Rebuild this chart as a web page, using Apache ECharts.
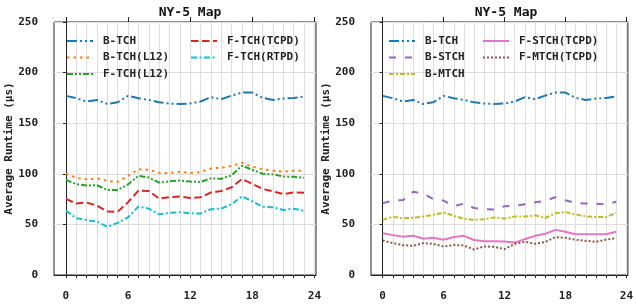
<!DOCTYPE html>
<html>
<head>
<meta charset="utf-8">
<script src="https://cdn.jsdelivr.net/npm/echarts@6/dist/echarts.min.js"></script>
<style>
  html, body { margin: 0; padding: 0; background: #fff; }
  #main { width: 636px; height: 305px; }
</style>
</head>
<body>
<div id="main"></div>
<script>
// hour of day
var hours = [0, 1, 2, 3, 4, 5, 6, 7, 8, 9, 10, 11, 12, 13, 14, 15, 16, 17, 18, 19, 20, 21, 22, 23];
var hourTicks = [0, 1, 2, 3, 4, 5, 6, 7, 8, 9, 10, 11, 12, 13, 14, 15, 16, 17, 18, 19, 20, 21, 22, 23, 24];
var hourLabels = [0, 6, 12, 18, 24];

// left panel
var bTch = [177, 174.7, 171.4, 173, 169, 170.7, 177, 174.7, 173, 170.7, 169.4, 169, 169.4, 171.4, 175.7, 173.7, 177.3, 180.3, 180.3, 175, 173, 174.3, 175, 176.3];
var bTchL12 = [100, 96, 94.5, 95.5, 93, 92, 98, 104.5, 104, 101, 100.8, 102, 100.8, 101.7, 105.3, 106, 107.7, 111, 107, 104.5, 103, 102, 103, 103];
var fTchL12 = [94, 89.8, 88.4, 88.7, 84, 84, 89.5, 98, 96.3, 91.3, 92.6, 93.3, 92.3, 92, 95.5, 95, 98.5, 108, 104, 100, 99.4, 97.3, 97, 96];
var fTchTcpd = [75.2, 70.6, 71.6, 68.5, 62.7, 62.5, 72, 83.3, 83, 75.5, 77, 77.5, 76.2, 76.8, 81.5, 83, 86.7, 94.8, 90, 85, 82.6, 80, 81.5, 81.3];
var fTchRtpd = [63.7, 56, 54.3, 52.8, 47.6, 51.5, 57, 67.6, 65.6, 59.9, 61.5, 62, 61, 60.7, 65, 65.6, 70, 77.8, 72.7, 67.5, 66.9, 64.3, 65.5, 63.3];

// right panel
var bStch = [71, 73.5, 74, 82.3, 80.5, 75, 73.5, 68, 70.5, 66.2, 65.2, 64.6, 68, 68.6, 69.8, 71.8, 73.2, 76.8, 73.8, 71.2, 70.6, 70.4, 69.8, 72.4];
var bMtch = [54.5, 57.5, 56, 56.6, 57.7, 59.5, 61.7, 58.5, 55.5, 54.5, 55.2, 56.8, 55.8, 57.7, 57.7, 59, 56.3, 61, 62.2, 59.8, 58, 57.2, 57.2, 61.4];
var fStchTcpd = [41.3, 39.4, 37.7, 38.8, 35.9, 36.9, 34.9, 37.5, 38.7, 34.6, 33.3, 33.3, 33.2, 32, 35.4, 38.7, 40.7, 44.6, 42.7, 40.2, 40.2, 40.2, 40.2, 42.7];
var fMtchTcpd = [34, 31.5, 29.5, 28.8, 31.5, 30.8, 28.2, 29.6, 29.2, 25.2, 28.2, 27.8, 25.5, 30.8, 32.8, 30.8, 32.6, 37.5, 36.7, 34.8, 33.8, 32.8, 34.9, 36.3];

var FONT = 'DejaVu Sans Mono';
var myChart = echarts.init(document.getElementById('main'));

function pairs(ys) {
    return hours.map(function (h, i) { return [h, ys[i]]; });
}

function line(name, ys, idx, color, dash) {
    return {
        name: name,
        type: 'line',
        xAxisIndex: idx,
        yAxisIndex: idx,
        data: pairs(ys),
        symbol: 'none',
        animation: false,
        lineStyle: { color: color, width: 2, type: dash },
        itemStyle: { color: color }
    };
}

// x axis with a split line at every hour, labels every 6 h
function xMinor(grid) {
    return {
        type: 'value', gridIndex: grid, min: -1.15, max: 24.15,
        axisLine: { show: true, lineStyle: { color: '#222' } },
        axisTick: { show: true, length: 3, customValues: hourTicks, lineStyle: { color: '#222' } },
        splitLine: { show: true, lineStyle: { color: '#dedede', width: 1 } },
        axisLabel: {
            customValues: hourLabels, margin: 16,
            fontFamily: FONT, fontWeight: 'bold', fontSize: 11, color: '#222'
        }
    };
}
function xMajor(grid) {
    return {
        type: 'value', gridIndex: grid, min: -1.15, max: 24.15,
        axisLine: { show: false },
        axisTick: { show: true, length: 5, customValues: hourLabels, lineStyle: { color: '#222' } },
        splitLine: { show: false },
        axisLabel: { show: false }
    };
}
function yAxis(grid) {
    return {
        type: 'value', gridIndex: grid, min: 0, max: 250, interval: 50,
        name: 'Average Runtime (μs)', nameLocation: 'middle', nameGap: 34,
        nameTextStyle: { fontFamily: FONT, fontWeight: 'bold', fontSize: 11, color: '#222' },
        axisLine: { show: true, lineStyle: { color: '#222' } },
        axisTick: { show: true, length: 3, lineStyle: { color: '#222' } },
        splitLine: { show: true, lineStyle: { color: '#dedede', width: 1 } },
        axisLabel: { margin: 16, fontFamily: FONT, fontWeight: 'bold', fontSize: 11, color: '#222' }
    };
}
function legend(left, names) {
    return {
        orient: 'vertical', left: left, top: 29,
        data: names,
        itemWidth: 26, itemHeight: 10, itemGap: 2.5,
        selectedMode: false,
        itemStyle: { opacity: 0 },
        textStyle: {
            fontFamily: FONT, fontWeight: 'bold', fontSize: 11, color: '#222',
            lineHeight: 14, padding: [0, 0, 0, 5]
        }
    };
}
function title(left, text) {
    return {
        text: text, left: left, top: 1, textAlign: 'center',
        textStyle: { fontFamily: FONT, fontWeight: 'bold', fontSize: 13, color: '#111' }
    };
}

var DASH_B = [10, 3, 2, 3, 2, 3];
var option = {
    backgroundColor: '#fff',
    title: [title(185, 'NY-5 Map'), title(501, 'NY-5 Map')],
    grid: [
        { left: 54, right: 320, top: 22, bottom: 30, show: true, borderColor: '#222', borderWidth: 1 },
        { left: 371, right: 4, top: 22, bottom: 30, show: true, borderColor: '#222', borderWidth: 1 }
    ],
    xAxis: [xMinor(0), xMinor(1), xMajor(0), xMajor(1)],
    yAxis: [yAxis(0), yAxis(1)],
    legend: [
        legend(61, ['B-TCH', 'B-TCH(L12)', 'F-TCH(L12)']),
        legend(185, ['F-TCH(TCPD)', 'F-TCH(RTPD)']),
        legend(383, ['B-TCH', 'B-STCH', 'B-MTCH']),
        legend(477, ['F-STCH(TCPD)', 'F-MTCH(TCPD)'])
    ],
    series: [
        line('B-TCH', bTch, 0, '#1f77b4', DASH_B),
        line('B-TCH(L12)', bTchL12, 0, '#ff7f0e', [2.5, 4]),
        line('F-TCH(L12)', fTchL12, 0, '#2ca02c', [6, 2, 2, 2, 2, 2]),
        line('F-TCH(TCPD)', fTchTcpd, 0, '#d62728', [7.5, 3.5]),
        line('F-TCH(RTPD)', fTchRtpd, 0, '#17becf', [6, 2.5, 2, 2.5]),
        line('B-TCH', bTch, 1, '#1f77b4', DASH_B),
        line('B-STCH', bStch, 1, '#9467bd', [7, 9]),
        line('B-MTCH', bMtch, 1, '#bcbd22', [5, 2, 2, 2]),
        line('F-STCH(TCPD)', fStchTcpd, 1, '#e377c2', 'solid'),
        line('F-MTCH(TCPD)', fMtchTcpd, 1, '#8c564b', [2, 2])
    ]
};
myChart.setOption(option);
window.addEventListener('resize', function () {
    myChart.resize();
});
</script>
</body>
</html>
